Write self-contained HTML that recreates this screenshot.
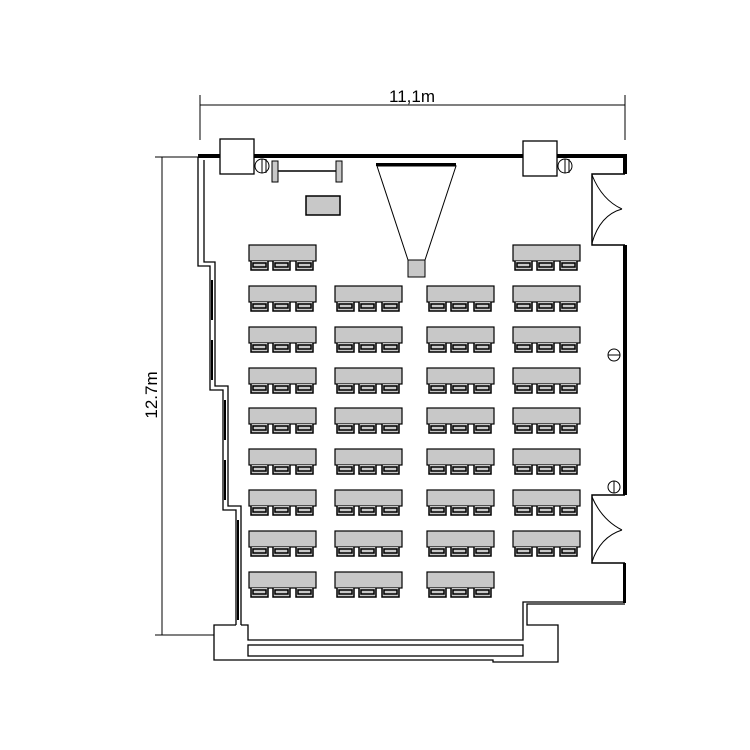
<!DOCTYPE html>
<html><head><style>body{margin:0;background:#fff}svg{display:block}</style></head><body>
<svg width="750" height="750" viewBox="0 0 750 750" xmlns="http://www.w3.org/2000/svg" font-family="Liberation Sans, sans-serif">
<rect width="750" height="750" fill="#fff"/>
<!-- dimensions -->
<g stroke="#000" stroke-width="1">
<line x1="200" y1="105" x2="625" y2="105"/>
<line x1="200" y1="95" x2="200" y2="140"/>
<line x1="625" y1="95" x2="625" y2="140"/>
<line x1="162" y1="157" x2="162" y2="635"/>
<line x1="155" y1="157" x2="200" y2="157"/>
<line x1="155" y1="635" x2="214" y2="635"/>
</g>
<text x="412" y="102" font-size="17" text-anchor="middle">11,1m</text>
<text transform="translate(157,395) rotate(-90)" font-size="17" text-anchor="middle">12.7m</text>
<!-- top wall -->
<rect x="198" y="154" width="24" height="4" fill="#000"/>
<rect x="254" y="154" width="270" height="4" fill="#000"/>
<rect x="557" y="154" width="70" height="4" fill="#000"/>
<!-- right wall -->
<rect x="623" y="154" width="4" height="20" fill="#000"/>
<polyline points="625,174 592,174 592,245 625,245" fill="none" stroke="#000" stroke-width="1.5"/>
<rect x="623" y="245" width="4" height="250" fill="#000"/>
<polyline points="625,495 592,495 592,563 625,563" fill="none" stroke="#000" stroke-width="1.5"/>
<rect x="623" y="563" width="3" height="40" fill="#000"/>
<!-- doors -->
<g fill="none" stroke="#000" stroke-width="1">
<path d="M592,175 Q602,200 622,209"/><path d="M592,243 Q600,215 622,209"/>
<path d="M592,497 Q602,520 622,530"/><path d="M592,562 Q600,537 622,530"/>
</g>
<!-- left wall -->
<g fill="none" stroke="#000" stroke-width="1.3">
<polyline points="198,157 198,266 210,266 210,390 223,390 223,510 236,510 236,625"/>
<polyline points="204,160 204,262 215,262 215,386 228,386 228,506 241,506 241,625"/>
</g>
<g stroke="#000" stroke-width="2"><line x1="212" y1="280" x2="212" y2="320"/><line x1="212" y1="340" x2="212" y2="380"/><line x1="225" y1="400" x2="225" y2="440"/><line x1="225" y1="460" x2="225" y2="500"/><line x1="238" y1="520" x2="238" y2="620"/></g>
<!-- bottom -->
<g fill="none" stroke="#000" stroke-width="1.3">
<polyline points="236,625 214,625 214,660 493,660 493,662 558,662 558,625 527,625 527,604 625,604"/>
<polyline points="241,625 248,625 248,640 523,640 523,602 625,602"/>
<rect x="248" y="645" width="275" height="11"/>
</g>
<!-- columns -->
<rect x="220" y="139" width="34" height="35" fill="#fff" stroke="#000" stroke-width="1.3"/>
<rect x="523" y="141" width="34" height="35" fill="#fff" stroke="#000" stroke-width="1.3"/>
<g fill="#fff" stroke="#000"><circle cx="262" cy="166" r="7"/><line x1="262" y1="159" x2="262" y2="173"/><line x1="266" y1="159" x2="266" y2="173"/>
<circle cx="565" cy="166" r="7"/><line x1="565" y1="159" x2="565" y2="173"/><line x1="569" y1="159" x2="569" y2="173"/>
<circle cx="614" cy="355" r="6"/><line x1="608" y1="355" x2="620" y2="355"/>
<circle cx="614" cy="487" r="6"/><line x1="614" y1="481" x2="614" y2="493"/></g>
<!-- whiteboard -->
<g fill="#c8c8c8" stroke="#000"><rect x="272" y="161" width="6" height="21"/><rect x="336" y="161" width="6" height="21"/></g>
<line x1="278" y1="171" x2="336" y2="171" stroke="#000" stroke-width="1.5"/>
<rect x="306" y="196" width="34" height="19" fill="#c8c8c8" stroke="#000" stroke-width="1.5"/>
<!-- screen -->
<rect x="376" y="163" width="80" height="3" fill="#000"/>
<polygon points="377,166 456,166 425,260 408,260" fill="#fff" stroke="#000"/>
<rect x="408" y="260" width="17" height="17" fill="#c8c8c8" stroke="#000"/>
<!-- tables -->
<defs>
<g id="t">
<rect x="0" y="0" width="67" height="16" fill="#c8c8c8" stroke="#000" stroke-width="1.2"/>
<g fill="#c8c8c8" stroke="#000" stroke-width="1.5">
<path d="M2,16 L2,25 L19,25 L19,16"/><rect x="4" y="18" width="13" height="4"/>
<path d="M24,16 L24,25 L41,25 L41,16"/><rect x="26" y="18" width="13" height="4"/>
<path d="M47,16 L47,25 L64,25 L64,16"/><rect x="49" y="18" width="13" height="4"/>
</g></g>
</defs>
<use href="#t" x="249" y="245"/><use href="#t" x="513" y="245"/>
<g id="r"><use href="#t" x="249" y="286"/><use href="#t" x="335" y="286"/><use href="#t" x="427" y="286"/><use href="#t" x="513" y="286"/></g>
<use href="#r" y="41"/><use href="#r" y="82"/><use href="#r" y="122"/><use href="#r" y="163"/><use href="#r" y="204"/><use href="#r" y="245"/>
<use href="#t" x="249" y="572"/><use href="#t" x="335" y="572"/><use href="#t" x="427" y="572"/>
</svg>
</body></html>
